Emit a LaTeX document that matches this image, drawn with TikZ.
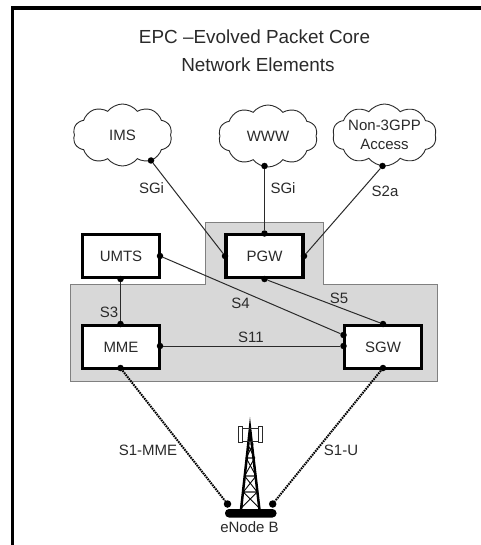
\documentclass[tikz,border=0pt]{standalone}
\usepackage{fontspec}
\setmainfont{Liberation Sans}
\usetikzlibrary{shapes.symbols}
\definecolor{ink}{HTML}{2A2A2A}
\definecolor{panel}{HTML}{D8D8D8}
\tikzset{
  x=1pt,y=-1pt,
  title/.style={font=\fontsize{18.9}{20}\selectfont,text=ink,anchor=center,inner sep=0pt},
  lab/.style={font=\fontsize{15}{17}\selectfont,text=ink,anchor=center,inner sep=0pt},
  elem/.style={draw=black,line width=3.5pt,fill=white,minimum width=77pt,minimum height=43pt,inner sep=0pt,font=\fontsize{15}{18}\selectfont,text=ink},
  net/.style={cloud,cloud puffs=10,cloud puff arc=105,cloud ignores aspect,draw=ink,line width=0.9pt,fill=white,inner sep=0pt,minimum width=99pt,minimum height=62pt,align=center,font=\fontsize{15}{19}\selectfont,text=ink},
  pin/.style={circle,fill=black,inner sep=0pt,minimum size=6.5pt},
  bigpin/.style={circle,fill=black,inner sep=0pt,minimum size=7.5pt},
  link/.style={draw=ink,line width=1pt},
  air/.style={draw=black,line width=2pt,dash pattern=on 1.6pt off 0.9pt},
  tower/.style={draw=black,line width=2.5pt},
  lattice/.style={draw=black,line width=0.9pt},
  brace/.style={draw=ink,line width=0.8pt},
}
\begin{document}
\begin{tikzpicture}
\useasboundingbox (0,0) rectangle (480,545);
\fill[white] (0,0) rectangle (480,545);
\draw[black,line width=3.2pt] (12.7,546) -- (12.7,8) -- (481,8);
\node[title] (t1) at (254.5,37) {EPC –Evolved Packet Core};
\node[title] (t2) at (258,65) {Network Elements};
\draw[draw=gray,fill=panel,line width=0.8pt] (70,284) -- (205,284) -- (205,222) -- (323.5,222) -- (323.5,284) -- (437,284) -- (437,381) -- (70,381) -- cycle;
\node[net] (ims) at (122.5,135) {IMS};
\node[net] (www) at (268,136) {WWW};
\node[net,minimum width=101pt] (non) at (384.5,135) {Non-3GPP\\Access};
\node[elem] (umts) at (121,256) {UMTS};
\node[elem] (pgw) at (264.5,256) {PGW};
\node[elem] (mme) at (121,347) {MME};
\node[elem] (sgw) at (383,347) {SGW};
\node[pin] (pims) at (151,160.5) {};
\node[pin] (pwww) at (264.5,166) {};
\node[pin] (pnon) at (382.5,166) {};
\node[pin] (pgwt) at (264.5,233.5) {};
\node[pin] (pgwl) at (225,256) {};
\node[pin] (pgwr) at (304,256) {};
\node[pin] (pgwb) at (264.5,279) {};
\node[pin] (umr) at (160,256) {};
\node[pin] (umb) at (120.5,279) {};
\node[pin] (mmt) at (120.5,324) {};
\node[pin] (mmr) at (160,346) {};
\node[pin] (mmb) at (120.5,368) {};
\node[pin] (sgl) at (343.5,335) {};
\node[pin] (sgm) at (343.5,346) {};
\node[pin] (sgt) at (383,324) {};
\node[pin] (sgb) at (383,368) {};
\node[bigpin] (enl) at (227.5,504) {};
\node[bigpin] (enr) at (272.7,504) {};
\draw[link] (pims) -- (pgwl);
\draw[link] (pwww) -- (pgwt);
\draw[link] (pnon) -- (pgwr);
\draw[link] (umb) -- (mmt);
\draw[link] (umr) -- (sgl);
\draw[link] (pgwb) -- (sgt);
\draw[link] (mmr) -- (sgm);
\draw[air] (mmb) -- (enl);
\draw[air] (sgb) -- (enr);
\node[lab] at (151.5,188) {SGi};
\node[lab] at (283,188) {SGi};
\node[lab] at (385,191) {S2a};
\node[lab] at (109,312) {S3};
\node[lab] at (240.5,303) {S4};
\node[lab] at (339,298) {S5};
\node[lab] at (251,337.5) {S11};
\node[lab] at (148,450) {S1-MME};
\node[lab] at (341,450) {S1-U};
% tower
\coordinate (apex) at (250,428);
\coordinate (bl) at (241,510);
\coordinate (br) at (259.5,510);
\draw[tower] (bl) -- (apex) -- (br);
\draw[lattice] (241.3,508) -- (257.2,492) -- (243.3,492) -- (256,476) -- (244.6,476) -- (254.6,458) -- (246.2,458) -- (253,444) -- (247.6,444);
\draw[lattice] (259.2,508) -- (243.3,492) -- (257.2,492) -- (244.6,476) -- (256,476) -- (246.2,458) -- (254.6,458) -- (247.6,444);
\draw[brace] (242,428.5) -- (258,428.5) (242,441) -- (258,441);
\draw[brace,fill=white] (238.5,426.5) rectangle (242.5,442);
\draw[brace,fill=white] (258,426.5) rectangle (262,442);
\fill[black,rounded corners=4pt] (225,509) rectangle (276.5,517.5);
\node[lab] (enb) at (249.5,527) {eNode B};
\end{tikzpicture}
\end{document}
